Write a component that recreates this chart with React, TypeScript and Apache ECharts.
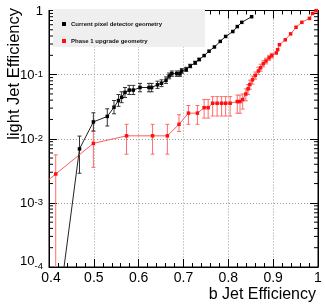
import React, { useEffect, useRef } from "react";
import * as echarts from "echarts";

const FONT = "'Liberation Sans', Arial, Helvetica, sans-serif";

const X_MIN = 0.4;
const X_MAX = 1;
const Y_MIN = 1e-4;
const Y_MAX = 1;

const seriesNames = ["Current pixel detector geometry", "Phase 1 upgrade geometry"];

// Current pixel detector geometry (black)
const currentX = [0.425, 0.468, 0.499, 0.53, 0.545, 0.555, 0.562, 0.5695, 0.579, 0.588, 0.603, 0.623, 0.629, 0.642, 0.651, 0.661, 0.668, 0.674, 0.685, 0.692, 0.696, 0.706, 0.715, 0.726, 0.735, 0.746, 0.757, 0.769, 0.782, 0.794, 0.81, 0.82, 0.83, 0.852];
const currentY = [3.5e-5, 6.95e-3, 1.83e-2, 2.23e-2, 3.1e-2, 3.94e-2, 4.43e-2, 5.28e-2, 5.74e-2, 5.74e-2, 6.3e-2, 6.3e-2, 6.3e-2, 6.94e-2, 7.35e-2, 8.18e-2, 9.55e-2, 0.1036, 0.1036, 0.103, 0.114, 0.121, 0.136, 0.153, 0.172, 0.198, 0.232, 0.27, 0.33, 0.394, 0.47, 0.561, 0.654, 0.8];
const currentLo = [null, 2.9e-3, 1.32e-2, 1.58e-2, 2.45e-2, 3.2e-2, 3.65e-2, 4.4e-2, 4.9e-2, 4.9e-2, 5.4e-2, 5.4e-2, 5.4e-2, 6.1e-2, 6.5e-2, 7.3e-2, 8.6e-2, 9.4e-2, 9.4e-2, 9.4e-2, 0.105, 0.112, 0.128, 0.145, 0.165, null, null, null, null, null, null, null, null, null];
const currentHi = [null, 1.1e-2, 2.54e-2, 2.93e-2, 3.95e-2, 4.9e-2, 5.4e-2, 6.3e-2, 6.8e-2, 6.8e-2, 7.3e-2, 7.3e-2, 7.3e-2, 7.9e-2, 8.3e-2, 9.2e-2, 0.106, 0.114, 0.114, 0.114, 0.124, 0.13, 0.145, 0.162, 0.18, null, null, null, null, null, null, null, null, null];

// Phase 1 upgrade geometry (red)
const phaseX = [0.38, 0.415, 0.499, 0.573, 0.631, 0.664, 0.69, 0.711, 0.731, 0.746, 0.755, 0.765, 0.775, 0.785, 0.794, 0.804, 0.82, 0.826, 0.832, 0.839, 0.844, 0.848, 0.854, 0.86, 0.867, 0.872, 0.878, 0.884, 0.891, 0.897, 0.907, 0.91, 0.914, 0.927, 0.939, 0.951, 0.964, 0.981, 0.988, 0.996];
const phaseY = [1.79e-3, 2.82e-3, 8.47e-3, 1.11e-2, 1.11e-2, 1.11e-2, 1.68e-2, 2.51e-2, 2.51e-2, 3.05e-2, 3.05e-2, 3.58e-2, 3.58e-2, 3.58e-2, 3.58e-2, 3.58e-2, 3.8e-2, 3.8e-2, 4.08e-2, 4.98e-2, 6.0e-2, 7.0e-2, 8.3e-2, 9.7e-2, 0.114, 0.128, 0.148, 0.163, 0.183, 0.198, 0.218, 0.245, 0.293, 0.349, 0.432, 0.548, 0.654, 0.753, 0.9, 0.995];
const phaseLo = [null, 1e-5, 3.58e-3, 5.75e-3, 5.75e-3, 5.75e-3, 1.3e-2, 1.68e-2, 1.68e-2, 2.1e-2, 2.1e-2, 2.26e-2, 2.26e-2, 2.26e-2, 2.26e-2, 2.26e-2, 2.5e-2, 2.5e-2, 2.9e-2, 3.9e-2, 4.9e-2, 5.9e-2, 7.1e-2, 8.5e-2, 0.1, 0.113, 0.132, 0.147, 0.167, 0.182, null, null, null, null, null, null, null, null, null, null];
const phaseHi = [null, 5.6e-3, 1.31e-2, 1.68e-2, 1.68e-2, 1.68e-2, 2.37e-2, 3.3e-2, 3.3e-2, 4.08e-2, 4.08e-2, 4.54e-2, 4.54e-2, 4.54e-2, 4.54e-2, 4.54e-2, 4.8e-2, 4.8e-2, 5.0e-2, 6.0e-2, 7.0e-2, 8.2e-2, 9.5e-2, 0.11, 0.13, 0.145, 0.165, 0.18, 0.2, 0.215, null, null, null, null, null, null, null, null, null, null];

const BLACK = "#000000";
const BLACK_LINE = "#222222";
const RED = "#ff1010";
const RED_LINE = "#ff5a5a";
const RED_ERR = "#ff6b6b";

function pairs(xs: number[], ys: number[]) {
  return xs.map((x, i) => [x, ys[i]]);
}

function errData(xs: number[], lo: (number | null)[], hi: (number | null)[]) {
  const out: number[][] = [];
  xs.forEach((x, i) => {
    const l = lo[i];
    const h = hi[i];
    if (l != null && h != null) out.push([x, l, h]);
  });
  return out;
}

function errRenderer(color: string) {
  return (params: any, api: any) => {
    const x = api.value(0);
    const a = api.coord([x, api.value(1)]);
    const b = api.coord([x, api.value(2)]);
    const cw = 2;
    const style = { stroke: color, lineWidth: 1 };
    return {
      type: "group",
      children: [
        { type: "line", shape: { x1: a[0], y1: a[1], x2: b[0], y2: b[1] }, style },
        { type: "line", shape: { x1: a[0] - cw, y1: a[1], x2: a[0] + cw, y2: a[1] }, style },
        { type: "line", shape: { x1: b[0] - cw, y1: b[1], x2: b[0] + cw, y2: b[1] }, style },
      ],
    };
  };
}

// log minor tick positions (2..9 x 10^k) inside the y range
const minorYTicks: number[][] = [];
for (let k = -4; k < 0; k++) {
  for (let m = 2; m <= 9; m++) {
    minorYTicks.push([X_MIN, m * Math.pow(10, k)]);
  }
}

function yLabel(v: number) {
  const e = Math.round(Math.log10(v));
  if (e === 0) return "{n|1}";
  if (e === -4) return `{nb|10}{sb|${e}}`;
  return `{n|10}{s|${e}}`;
}

function xLabel(v: number) {
  const r = Math.round(v * 10) / 10;
  if (r === X_MIN) return `{first|${r}}`;
  return `${r}`;
}

export default function App() {
  const ref = useRef<HTMLDivElement>(null);
  useEffect(() => {
    const chart = echarts.init(ref.current!, null, { renderer: "svg" });
    const grid = { left: 49, top: 7, width: 269, height: 260 };
    const option: any = {
      animation: false,
      textStyle: { fontFamily: FONT },
      grid: { ...grid, show: true, borderColor: "#000", borderWidth: 1, backgroundColor: "transparent" },
      legend: {
        data: seriesNames,
        orient: "vertical",
        left: 57,
        top: 16,
        itemGap: 11,
        icon: "rect",
        itemWidth: 4,
        itemHeight: 4,
        textStyle: { fontSize: 6, fontWeight: "bold", color: "#111", fontFamily: FONT },
        z: 5,
      },
      graphic: [
        { type: "rect", z: 1, shape: { x: 53, y: 9, width: 152, height: 38 }, style: { fill: "#efefef" } },
        {
          type: "text",
          z: 5,
          x: 316,
          y: 285,
          style: { text: "b Jet Efficiency", fontSize: 16, fontFamily: FONT, fill: "#000", textAlign: "right", textVerticalAlign: "top" },
        },
        {
          type: "text",
          z: 5,
          x: 4,
          y: 8,
          rotation: Math.PI / 2,
          style: { text: "light Jet Efficiency", fontSize: 16.5, fontFamily: FONT, fill: "#000", textAlign: "right", textVerticalAlign: "top" },
        },
      ],
      xAxis: [
        {
          type: "value",
          min: X_MIN,
          max: X_MAX,
          interval: 0.1,
          position: "bottom",
          axisLine: { show: true, lineStyle: { color: "#000", width: 1 } },
          axisTick: { show: true, inside: true, length: 8, lineStyle: { color: "#000" } },
          minorTick: { show: true, splitNumber: 5, length: 4, lineStyle: { color: "#000" } },
          axisLabel: {
            fontSize: 14,
            lineHeight: 14,
            color: "#000",
            margin: 3,
            fontFamily: FONT,
            formatter: xLabel,
            rich: {
              first: { fontSize: 14, lineHeight: 14, fontFamily: FONT, color: "#000", padding: [0, 0, 0, 4] },
            },
          },
          splitLine: { show: true, lineStyle: { color: "#9a9a9a", type: [1, 2], width: 1 } },
        },
        {
          type: "value",
          min: X_MIN,
          max: X_MAX,
          interval: 0.1,
          position: "top",
          axisLine: { show: true, lineStyle: { color: "#000", width: 1 } },
          axisTick: { show: true, inside: true, length: 8, lineStyle: { color: "#000" } },
          minorTick: { show: true, splitNumber: 5, length: 4, lineStyle: { color: "#000" } },
          axisLabel: { show: false },
          splitLine: { show: false },
        },
      ],
      yAxis: [
        {
          type: "log",
          logBase: 10,
          min: Y_MIN,
          max: Y_MAX,
          position: "left",
          axisLine: { show: true, lineStyle: { color: "#000", width: 1 } },
          axisTick: { show: true, inside: true, length: 8, lineStyle: { color: "#000" } },
          axisLabel: {
            margin: 6,
            color: "#000",
            formatter: yLabel,
            rich: {
              n: { fontSize: 13, lineHeight: 13, fontFamily: FONT, color: "#000", verticalAlign: "bottom", padding: [4, 0, 0, 0] },
              s: { fontSize: 9.5, lineHeight: 10, fontFamily: FONT, color: "#000", verticalAlign: "top" },
              nb: { fontSize: 13, lineHeight: 13, fontFamily: FONT, color: "#000", verticalAlign: "bottom", padding: [4, 0, 7, 0] },
              sb: { fontSize: 9.5, lineHeight: 10, fontFamily: FONT, color: "#000", verticalAlign: "top" },
            },
          },
          splitLine: { show: true, lineStyle: { color: "#9a9a9a", type: [1, 2], width: 1 } },
        },
        {
          type: "log",
          logBase: 10,
          min: Y_MIN,
          max: Y_MAX,
          position: "right",
          axisLine: { show: true, lineStyle: { color: "#000", width: 1 } },
          axisTick: { show: true, inside: true, length: 8, lineStyle: { color: "#000" } },
          axisLabel: { show: false },
          splitLine: { show: false },
        },
      ],
      series: [
        {
          type: "custom",
          name: "minorLogTicks",
          silent: true,
          z: 3,
          data: minorYTicks,
          encode: { x: 0, y: 1 },
          renderItem: (params: any, api: any) => {
            const v = api.value(1);
            const l = api.coord([X_MIN, v]);
            const r = api.coord([X_MAX, v]);
            const style = { stroke: "#000", lineWidth: 1 };
            return {
              type: "group",
              children: [
                { type: "line", shape: { x1: l[0], y1: l[1], x2: l[0] + 4, y2: l[1] }, style },
                { type: "line", shape: { x1: r[0] - 4, y1: r[1], x2: r[0], y2: r[1] }, style },
              ],
            };
          },
        },
        {
          type: "line",
          name: seriesNames[1],
          data: pairs(phaseX, phaseY),
          clip: true,
          symbol: "rect",
          symbolSize: 3.5,
          itemStyle: { color: RED },
          lineStyle: { color: RED_LINE, width: 1 },
          z: 4,
        },
        {
          type: "custom",
          name: "phaseErr",
          clip: true,
          silent: true,
          z: 3,
          data: errData(phaseX, phaseLo, phaseHi),
          encode: { x: 0, y: [1, 2] },
          renderItem: errRenderer(RED_ERR),
        },
        {
          type: "line",
          name: seriesNames[0],
          data: pairs(currentX, currentY),
          clip: true,
          symbol: "rect",
          symbolSize: 3.5,
          itemStyle: { color: BLACK },
          lineStyle: { color: BLACK_LINE, width: 1 },
          z: 4,
        },
        {
          type: "custom",
          name: "currentErr",
          clip: true,
          silent: true,
          z: 3,
          data: errData(currentX, currentLo, currentHi),
          encode: { x: 0, y: [1, 2] },
          renderItem: errRenderer("#333333"),
        },
      ],
    };
    chart.setOption(option);
    return () => chart.dispose();
  }, []);
  return <div ref={ref} style={{ position: "fixed", left: 0, top: 0, width: 325, height: 305 }} />;
}
